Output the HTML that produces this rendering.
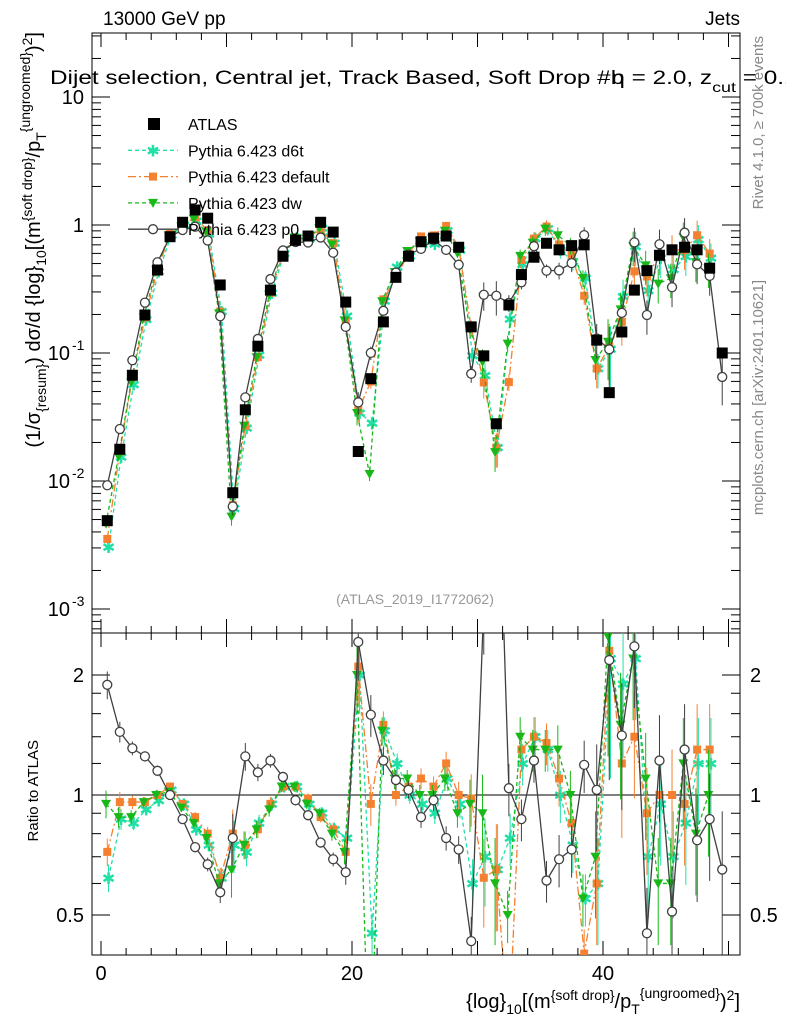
<!DOCTYPE html>
<html><head><meta charset="utf-8"><style>
body{margin:0;background:#fff;font-family:"Liberation Sans",sans-serif;overflow:hidden}
svg{display:block}
</style></head><body>
<svg id="c" width="786" height="1024" xmlns="http://www.w3.org/2000/svg" font-family="Liberation Sans, sans-serif"></svg>
<script>
const xbins=[0.5,1.5,2.5,3.5,4.5,5.5,6.5,7.5,8.5,9.5,10.5,11.5,12.5,13.5,14.5,15.5,16.5,17.5,18.5,19.5,20.5,21.5,22.5,23.5,24.5,25.5,26.5,27.5,28.5,29.5,30.5,31.5,32.5,33.5,34.5,35.5,36.5,37.5,38.5,39.5,40.5,41.5,42.5,43.5,44.5,45.5,46.5,47.5,48.5,49.5];
const atlas=[0.0049,0.0177,0.067,0.198,0.445,0.81,1.05,1.31,1.13,0.34,0.0081,0.036,0.113,0.31,0.57,0.76,0.82,1.05,0.88,0.25,0.017,0.063,0.175,0.39,0.57,0.74,0.79,0.82,0.67,0.16,0.095,0.028,0.237,0.41,0.56,0.72,0.64,0.69,0.70,0.126,0.049,0.146,0.31,0.44,0.58,0.64,0.67,0.64,0.46,0.10];
const rP0=[1.89,1.44,1.31,1.25,1.15,1.0,0.87,0.74,0.67,0.57,0.78,1.25,1.14,1.22,1.11,0.97,0.89,0.76,0.69,0.64,2.42,1.59,1.22,1.09,1.03,0.88,0.97,0.78,0.73,0.43,3.0,10,1.04,0.87,1.22,0.61,0.69,0.73,1.19,1.03,2.18,1.41,2.36,0.45,1.22,0.51,1.30,0.77,0.87,0.65];
const rD6t=[0.62,0.87,0.85,0.92,0.97,1.03,0.95,0.82,0.75,0.62,0.75,0.72,0.85,0.95,1.05,1.05,0.95,0.9,0.82,0.78,2.0,0.45,1.45,1.2,1.0,0.95,0.9,1.1,0.95,0.6,0.7,0.65,0.78,1.2,1.4,1.3,1.0,0.75,0.55,0.6,2.2,1.9,2.2,0.7,0.95,0.7,0.85,1.2,1.2,null];
const rDef=[0.72,0.96,0.96,0.96,1.0,1.05,0.95,0.88,0.8,0.62,0.8,0.75,0.82,0.95,1.05,1.05,0.98,0.88,0.82,0.72,2.1,0.95,1.5,1.0,1.05,1.1,1.05,1.2,1.0,0.98,0.62,0.65,0.25,1.3,1.4,1.35,1.1,0.85,0.4,0.6,2.3,1.2,1.4,0.9,1.0,1.0,0.95,1.3,1.3,null];
const rDw=[0.95,0.88,0.88,0.96,1.0,1.02,0.93,0.85,0.78,0.6,0.65,0.75,0.82,0.92,1.05,1.05,0.95,0.9,0.8,0.72,2.0,0.18,1.45,1.1,1.1,1.0,1.0,1.1,0.9,0.95,0.9,0.6,0.5,1.4,1.3,1.3,1.3,1.0,0.55,0.7,2.5,1.5,2.2,1.1,0.6,0.6,1.2,0.8,1.0,null];
const relErr=[0.08,0.06,0.04,0.03,0.03,0.02,0.02,0.03,0.04,0.06,0.15,0.08,0.05,0.04,0.03,0.03,0.03,0.03,0.04,0.07,0.2,0.12,0.08,0.06,0.05,0.06,0.06,0.07,0.08,0.15,0.25,0.3,0.15,0.12,0.12,0.12,0.15,0.15,0.15,0.3,0.5,0.35,0.3,0.3,0.3,0.3,0.3,0.3,0.3,0.4];
const xTicks=[0,20,40];
const svg=document.getElementById('c');const NS='http://www.w3.org/2000/svg';
const L=92,R=740,T=33,M=633,B=955;
const X=v=>101+v*12.55;
const YM=v=>225-128*Math.log10(v);
const YR=v=>795-120*Math.log2(v);
function el(t,a,p){const e=document.createElementNS(NS,t);for(const k in a)e.setAttribute(k,a[k]);(p||svg).appendChild(e);return e;}
const clipM=el('clipPath',{id:'cm'});el('rect',{x:L,y:T,width:R-L,height:M-T},clipM);
const clipR=el('clipPath',{id:'cr'});el('rect',{x:L,y:M,width:R-L,height:B-M},clipR);
const f1=el('rect',{x:L,y:T,width:R-L,height:M-T,fill:'none',stroke:'#000','stroke-width':1});

const f2=el('rect',{x:L,y:M,width:R-L,height:B-M,fill:'none',stroke:'#000','stroke-width':1});

for(let v=0;v<=51;v+=2){const x=X(v);const big=v%10===0;const h=big?14:7;
 for(const [y0,y1] of [[M,M-h],[T,T+h],[B,B-h],[M,M+h]]){el('line',{x1:x,x2:x,y1:y0,y2:y1,stroke:'#000'});}}
xTicks.forEach(v=>{const t=el('text',{x:X(v),y:980,'text-anchor':'middle','font-size':20});t.textContent=v;
 });
for(let d=-4;d<=1;d++){for(let m=1;m<10;m++){const v=m*Math.pow(10,d);const y=YM(v);if(y<T||y>M)continue;const h=m===1?18:9;
 el('line',{x1:L,x2:L+h,y1:y,y2:y,stroke:'#000'});el('line',{x1:R,x2:R-h,y1:y,y2:y,stroke:'#000'});}}
[[10,'10'],[1,'1'],[0.1,'10'],[0.01,'10'],[0.001,'10']].forEach(([v,s],i)=>{const y=YM(v);
 const t=el('text',{x:i<2?84:70,y:y+7,'text-anchor':'end','font-size':20});t.textContent=s;
 
 if(i>=2){const e=el('text',{x:72,y:y-3,'font-size':14});e.textContent=['-1','-2','-3'][i-2];
 }});
[0.5,0.6,0.7,0.8,0.9,1,1.2,1.4,1.6,1.8,2].forEach(v=>{const y=YR(v);const h=(v===0.5||v===1||v===2)?18:9;
 el('line',{x1:L,x2:L+h,y1:y,y2:y,stroke:'#000'});el('line',{x1:R,x2:R-h,y1:y,y2:y,stroke:'#000'});});
[[2,'2'],[1,'1'],[0.5,'0.5']].forEach(([v,s])=>{const y=YR(v)+7;
 const a=el('text',{x:84,y:y,'text-anchor':'end','font-size':20});a.textContent=s;
 const b=el('text',{x:750,y:y,'font-size':20});b.textContent=s;});
const one=el('line',{x1:L,x2:R,y1:YR(1),y2:YR(1),stroke:'#000'});
const gm=el('g',{'clip-path':'url(#cm)'});const gr=el('g',{'clip-path':'url(#cr)'});
function marker(g,kind,x,y,col){
 if(kind==='star'){el('text',{x:x,y:y+6,'text-anchor':'middle','font-size':16,fill:col},g).textContent='✱';}
 else if(kind==='sq')el('rect',{x:x-4,y:y-4,width:8,height:8,fill:col},g);
 else if(kind==='tri')el('path',{d:`M${x-5},${y-4}L${x+5},${y-4}L${x},${y+5}Z`,fill:col},g);
 else if(kind==='circ')el('circle',{cx:x,cy:y,r:4.5,fill:'#fff',stroke:col,'stroke-width':1.3},g);
}
const series=[
 {name:'pythia-d6t',r:rD6t,col:'#20e0a8',dash:'4,3',mk:'star',off:0.1},
 {name:'pythia-default',r:rDef,col:'#f58030',dash:'8,3,2,3',mk:'sq',off:0.0},
 {name:'pythia-dw',r:rDw,col:'#18b818',dash:'4,3',mk:'tri',off:-0.1},
 {name:'pythia-p0',r:rP0,col:'#404040',dash:'',mk:'circ',off:0}];
series.forEach(s=>{
 const gM=el('g',{},gm);
 const gR=el('g',{},gr);
 let pm=[],pr=[];
 xbins.forEach((xv,i)=>{const r=s.r[i];if(r==null)return;const v=atlas[i]*r;const x=X(xv+s.off);
  pm.push(`${x},${YM(v)}`);pr.push(`${x},${YR(r)}`);
  const e=relErr[i];
  el('line',{x1:x,x2:x,y1:YM(v*(1+e)),y2:YM(Math.max(v*(1-e),1e-6)),stroke:s.col},gM);
  el('line',{x1:x,x2:x,y1:YR(r*(1+e)),y2:YR(Math.max(r*(1-e),1e-3)),stroke:s.col},gR);});
 el('polyline',{points:pm.join(' '),fill:'none',stroke:s.col,'stroke-width':1.3,'stroke-dasharray':s.dash},gM);
 el('polyline',{points:pr.join(' '),fill:'none',stroke:s.col,'stroke-width':1.3,'stroke-dasharray':s.dash},gR);
 xbins.forEach((xv,i)=>{const r=s.r[i];if(r==null)return;const x=X(xv+s.off);
  marker(gM,s.mk,x,YM(atlas[i]*r),s.col);marker(gR,s.mk,x,YR(r),s.col);});
});
const ga=el('g',{},gm);
xbins.forEach((xv,i)=>{const x=X(xv),y=YM(atlas[i]);el('rect',{x:x-5.5,y:y-5.5,width:11,height:11,fill:'#000'},ga);});
const leg=[['ATLAS','sq2','#000',''],['Pythia 6.423 d6t','star','#20e0a8','4,3'],['Pythia 6.423 default','sq','#f58030','8,3,2,3'],['Pythia 6.423 dw','tri','#18b818','4,3'],['Pythia 6.423 p0','circ','#404040','']];
leg.forEach((l,i)=>{const y=124+i*26.3;const g=el('g',{});
 if(l[1]==='sq2')el('rect',{x:148,y:y-6,width:12,height:12,fill:'#000'},g);
 else{el('line',{x1:128,x2:178,y1:y,y2:y,stroke:l[2],'stroke-width':1.3,'stroke-dasharray':l[3]},g);marker(g,l[1],153,y,l[2]);}
 const t=el('text',{x:188,y:y+6,'font-size':16},g);t.textContent=l[0];});
function txt(x,y,s,size,name,extra){const t=el('text',Object.assign({x:x,y:y,'font-size':size},extra||{}));t.textContent=s;return t;}
txt(103,25,'13000 GeV pp',19,'energy-label');
txt(740,25,'Jets',19,'process-label',{'text-anchor':'end'});
const tt=txt(0,0,'',19,'plot-title',{transform:'translate(50,84) scale(1.28,1)'});
tt.innerHTML='Dijet selection, Central jet, Track Based, Soft Drop #b<tspan dx="-10">η = 2.0, z</tspan><tspan font-size="14" dy="8">cut</tspan><tspan dy="-8"> = 0.1</tspan>';
txt(415,604,'(ATLAS_2019_I1772062)',14,'analysis-id',{'text-anchor':'middle',fill:'#999'});
txt(0,0,'Rivet 4.1.0, ≥ 700k events',15,'rivet-version',{fill:'#888','text-anchor':'end',transform:'translate(763,36) rotate(-90)'});
txt(0,0,'mcplots.cern.ch [arXiv:2401.10621]',15,'mcplots-credit',{fill:'#888','text-anchor':'end',transform:'translate(763,280) rotate(-90)'});
const yl=txt(0,0,'',20,'y-axis-title',{'text-anchor':'end',transform:'translate(40,32) rotate(-90)'});
yl.innerHTML='(1/σ<tspan font-size="14" dy="6">{resum}</tspan><tspan dy="-6">) dσ/d {log}</tspan><tspan font-size="14" dy="6">10</tspan><tspan dy="-6">[(m</tspan><tspan font-size="14" dy="-8">{soft drop}</tspan><tspan dy="8">/p</tspan><tspan font-size="14" dy="6">T</tspan><tspan font-size="14" dy="-16">{ungroomed}</tspan><tspan dy="10">)</tspan><tspan font-size="14" dy="-8">2</tspan><tspan dy="8">]</tspan>';
txt(0,0,'Ratio to ATLAS',15,'ratio-axis-title',{'text-anchor':'end',transform:'translate(38,740) rotate(-90)'});
const xl=txt(740,1008,'',20,'x-axis-title',{'text-anchor':'end'});
xl.innerHTML='{log}<tspan font-size="14" dy="6">10</tspan><tspan dy="-6">[(m</tspan><tspan font-size="14" dy="-8">{soft drop}</tspan><tspan dy="8">/p</tspan><tspan font-size="14" dy="6">T</tspan><tspan font-size="14" dy="-16">{ungroomed}</tspan><tspan dy="10">)</tspan><tspan font-size="14" dy="-8">2</tspan><tspan dy="8">]</tspan>';
</script>
</body></html>
